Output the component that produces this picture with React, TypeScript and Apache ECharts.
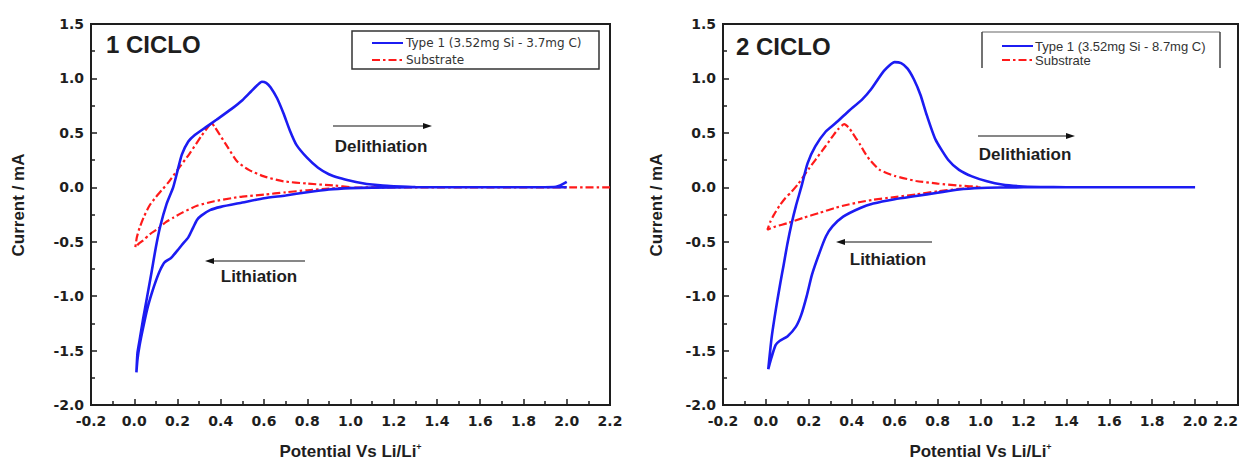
import React, { useEffect, useRef } from "react";
import * as echarts from "echarts";

// Cyclic voltammograms: [potential (V vs Li/Li+), current (mA)], in sweep order
// (cathodic sweep down to ~0 V, then anodic sweep back up).
const cycle1Type1: [number, number][] = [
  [2.0, 0.0], [1.9, 0.0], [1.6, 0.0], [1.3, 0.0], [1.1, -0.003], [1.0, -0.008],
  [0.9, -0.02], [0.8, -0.045], [0.7, -0.075], [0.6, -0.1], [0.5, -0.14], [0.4, -0.18],
  [0.35, -0.21], [0.31, -0.26], [0.29, -0.3], [0.27, -0.38], [0.25, -0.46], [0.22, -0.53],
  [0.2, -0.58], [0.17, -0.65], [0.14, -0.69], [0.12, -0.76], [0.1, -0.86], [0.08, -0.98],
  [0.06, -1.12], [0.04, -1.3], [0.025, -1.45], [0.015, -1.58], [0.01, -1.7],
  [0.015, -1.52], [0.025, -1.4], [0.04, -1.22], [0.06, -1.0], [0.08, -0.78], [0.1, -0.55],
  [0.12, -0.36], [0.15, -0.15], [0.18, 0.0], [0.2, 0.15], [0.22, 0.3], [0.25, 0.42],
  [0.28, 0.48], [0.33, 0.55], [0.38, 0.62], [0.45, 0.72], [0.5, 0.8], [0.54, 0.88],
  [0.57, 0.94], [0.59, 0.97], [0.61, 0.96], [0.63, 0.92], [0.66, 0.82], [0.69, 0.68],
  [0.72, 0.52], [0.75, 0.39], [0.8, 0.27], [0.85, 0.18], [0.9, 0.12], [0.95, 0.085],
  [1.0, 0.06], [1.05, 0.04], [1.1, 0.025], [1.15, 0.015], [1.2, 0.01], [1.3, 0.003],
  [1.5, 0.0], [1.8, 0.0], [1.95, 0.005], [2.0, 0.05],
];

const cycle1Substrate: [number, number][] = [
  [2.2, 0.0], [1.6, 0.0], [1.1, 0.0], [1.0, -0.005], [0.9, -0.012], [0.8, -0.027],
  [0.7, -0.046], [0.6, -0.067], [0.5, -0.085], [0.45, -0.1], [0.37, -0.128], [0.29, -0.17],
  [0.22, -0.235], [0.18, -0.28], [0.146, -0.32], [0.11, -0.38], [0.073, -0.43], [0.04, -0.49],
  [0.02, -0.52], [0.005, -0.55],
  [0.012, -0.46], [0.025, -0.37], [0.045, -0.27], [0.07, -0.17], [0.1, -0.09], [0.13, -0.02],
  [0.16, 0.05], [0.2, 0.16], [0.256, 0.31], [0.31, 0.47], [0.347, 0.57], [0.357, 0.59],
  [0.37, 0.56], [0.39, 0.5], [0.43, 0.375], [0.475, 0.24], [0.53, 0.16], [0.6, 0.1],
  [0.69, 0.055], [0.8, 0.034], [0.93, 0.015], [1.0, 0.0],
];

const cycle2Type1: [number, number][] = [
  [2.0, 0.0], [1.6, 0.0], [1.2, 0.0], [1.1, -0.002], [1.0, -0.006], [0.9, -0.02],
  [0.8, -0.05], [0.7, -0.08], [0.6, -0.11], [0.5, -0.15], [0.44, -0.19], [0.36, -0.27],
  [0.31, -0.36], [0.28, -0.45], [0.25, -0.6], [0.215, -0.8], [0.19, -1.0], [0.165, -1.17],
  [0.14, -1.28], [0.1, -1.37], [0.065, -1.41], [0.045, -1.45], [0.025, -1.57], [0.011, -1.67],
  [0.026, -1.39], [0.04, -1.2], [0.054, -1.03], [0.068, -0.87], [0.082, -0.72], [0.1, -0.52],
  [0.12, -0.33], [0.14, -0.17], [0.166, 0.01], [0.194, 0.22], [0.23, 0.375], [0.278, 0.51],
  [0.325, 0.59], [0.38, 0.69], [0.45, 0.81], [0.49, 0.9], [0.55, 1.07], [0.6, 1.15],
  [0.63, 1.14], [0.66, 1.09], [0.69, 0.99], [0.72, 0.85], [0.75, 0.66], [0.79, 0.44],
  [0.85, 0.25], [0.9, 0.16], [0.96, 0.1], [1.03, 0.055], [1.1, 0.025], [1.18, 0.01],
  [1.28, 0.003], [1.4, 0.0], [2.0, 0.0],
];

const cycle2Substrate: [number, number][] = [
  [1.0, 0.0], [0.9, -0.015], [0.8, -0.037], [0.7, -0.065], [0.6, -0.09], [0.5, -0.115],
  [0.44, -0.135], [0.38, -0.16], [0.32, -0.19], [0.25, -0.235], [0.175, -0.28], [0.1, -0.33],
  [0.045, -0.36], [0.007, -0.39],
  [0.02, -0.32], [0.035, -0.26], [0.063, -0.17], [0.09, -0.1], [0.12, -0.04], [0.15, 0.03],
  [0.175, 0.1], [0.2, 0.17], [0.23, 0.25], [0.26, 0.33], [0.29, 0.41], [0.315, 0.48],
  [0.335, 0.53], [0.365, 0.58], [0.385, 0.55], [0.4, 0.51], [0.42, 0.45], [0.44, 0.39],
  [0.46, 0.32], [0.485, 0.25], [0.53, 0.16], [0.6, 0.105], [0.7, 0.058], [0.8, 0.034],
  [0.9, 0.016], [1.0, 0.003],
];

const panelTitles = ["1 CICLO", "2 CICLO"];
const type1Names = ["Type 1 (3.52mg Si - 3.7mg C)", "Type 1 (3.52mg Si - 8.7mg C)"];
const substrateName = "Substrate";
const xAxisTitle = "Potential Vs Li/Li{sup|+}";
const yAxisTitle = "Current / mA";

const BLUE = "#1c1cf2";
const RED = "#ff1a1a";
const INK = "#1e1e1e";
const DASH_DOT = [8, 3, 2.5, 3];

const tickFmt = (v: number) => (Math.abs(v) < 1e-9 ? "0.0" : v.toFixed(1));

const tickLabel = {
  formatter: tickFmt,
  fontFamily: "DejaVu Sans",
  fontWeight: "bold",
  fontSize: 14,
  color: INK,
};

function makeXAxis(gridIndex: number, alignMax: string) {
  return {
    type: "value",
    gridIndex,
    min: -0.2,
    max: 2.2,
    interval: 0.2,
    name: xAxisTitle,
    nameLocation: "middle",
    nameGap: 37,
    nameTextStyle: {
      fontFamily: "Liberation Sans",
      fontWeight: "bold",
      fontSize: 17,
      color: INK,
      rich: {
        sup: { fontFamily: "Liberation Sans", fontWeight: "bold", fontSize: 9, color: INK, padding: [0, 0, 9, 0] },
      },
    },
    axisLine: { show: true, onZero: false, lineStyle: { color: INK, width: 2 } },
    axisTick: { show: true, inside: true, length: 6, lineStyle: { color: INK, width: 1.5 } },
    minorTick: { show: true, splitNumber: 2, length: 4, lineStyle: { color: INK, width: 1.5 } },
    splitLine: { show: false },
    axisLabel: { ...tickLabel, margin: 9, alignMaxLabel: alignMax },
  };
}

function makeYAxis(gridIndex: number) {
  return {
    type: "value",
    gridIndex,
    min: -2,
    max: 1.5,
    interval: 0.5,
    axisLine: { show: true, onZero: false, lineStyle: { color: INK, width: 2 } },
    axisTick: { show: true, inside: true, length: 6, lineStyle: { color: INK, width: 1.5 } },
    minorTick: { show: true, splitNumber: 2, length: 4, lineStyle: { color: INK, width: 1.5 } },
    splitLine: { show: false },
    axisLabel: { ...tickLabel, margin: 7 },
  };
}

function lineSeries(name: string, data: [number, number][], idx: number, color: string, width: number, type: any, z: number) {
  return {
    type: "line",
    name,
    xAxisIndex: idx,
    yAxisIndex: idx,
    data,
    symbol: "none",
    showSymbol: false,
    smooth: 0.2,
    z,
    lineStyle: { color, width, type },
  };
}

const boldText = (text: string, x: number, y: number, size: number, align = "left", rotation = 0) => ({
  type: "text",
  x,
  y,
  rotation,
  style: {
    text,
    fill: INK,
    font: `bold ${size}px "Liberation Sans", Arial, sans-serif`,
    textAlign: align,
    textVerticalAlign: "middle",
    verticalAlign: "middle",
  },
});

const arrow = (x1: number, x2: number, y: number) => {
  const dir = x2 > x1 ? 1 : -1;
  return [
    { type: "line", shape: { x1, y1: y, x2: x2 - dir * 7, y2: y }, style: { stroke: "#111", lineWidth: 1.2 } },
    {
      type: "polygon",
      shape: { points: [[x2, y], [x2 - dir * 9, y - 3], [x2 - dir * 9, y + 3]] },
      style: { fill: "#111" },
    },
  ];
};

const legendText = (text: string, x: number, y: number, font: string) => ({
  type: "text",
  x,
  y,
  style: { text, fill: "#333", font, textAlign: "left", textVerticalAlign: "middle", verticalAlign: "middle" },
});

export default function App() {
  const ref = useRef<HTMLDivElement>(null);

  useEffect(() => {
    if (!ref.current) return;
    const chart = echarts.init(ref.current, undefined, { renderer: "svg" });

    const graphic: any[] = [
      boldText(panelTitles[0], 106, 44, 24),
      boldText(panelTitles[1], 736, 46, 24),
      boldText(yAxisTitle, 18, 205, 17, "center", Math.PI / 2),
      boldText(yAxisTitle, 656, 205, 17, "center", Math.PI / 2),
      // annotations
      ...arrow(333, 432, 126),
      boldText("Delithiation", 381, 146, 17, "center"),
      ...arrow(305, 205, 261),
      boldText("Lithiation", 259, 276, 17, "center"),
      ...arrow(978, 1075, 136),
      boldText("Delithiation", 1025, 154, 17, "center"),
      ...arrow(932, 836, 242),
      boldText("Lithiation", 888, 259, 17, "center"),
      // legend, left panel
      {
        type: "rect",
        shape: { x: 352, y: 31, width: 247, height: 38 },
        style: { fill: "#fff", stroke: "#333", lineWidth: 1.5 },
        z: 10,
      },
      { type: "line", shape: { x1: 372, y1: 43, x2: 403, y2: 43 }, style: { stroke: BLUE, lineWidth: 2 }, z: 11 },
      { type: "line", shape: { x1: 372, y1: 60, x2: 403, y2: 60 }, style: { stroke: RED, lineWidth: 2, lineDash: DASH_DOT }, z: 11 },
      { ...legendText(type1Names[0], 406, 43, '12px "DejaVu Sans", sans-serif'), z: 11 },
      { ...legendText(substrateName, 406, 60, '12px "DejaVu Sans", sans-serif'), z: 11 },
      // legend, right panel (open at the bottom)
      { type: "line", shape: { x1: 982, y1: 32, x2: 1220, y2: 32 }, style: { stroke: "#999", lineWidth: 1.5 }, z: 11 },
      { type: "line", shape: { x1: 982, y1: 32, x2: 982, y2: 68 }, style: { stroke: "#444", lineWidth: 1.5 }, z: 11 },
      { type: "line", shape: { x1: 1220, y1: 32, x2: 1220, y2: 68 }, style: { stroke: "#444", lineWidth: 1.5 }, z: 11 },
      { type: "line", shape: { x1: 1002, y1: 46, x2: 1033, y2: 46 }, style: { stroke: BLUE, lineWidth: 2 }, z: 11 },
      { type: "line", shape: { x1: 1002, y1: 60, x2: 1033, y2: 60 }, style: { stroke: RED, lineWidth: 2, lineDash: DASH_DOT }, z: 11 },
      { ...legendText(type1Names[1], 1035, 46, '13px "Liberation Sans", Arial, sans-serif'), z: 11 },
      { ...legendText(substrateName, 1035, 60, '13px "Liberation Sans", Arial, sans-serif'), z: 11 },
    ];

    const gridBase = {
      top: 24,
      height: 381,
      show: true,
      borderColor: INK,
      borderWidth: 2,
      backgroundColor: "transparent",
      containLabel: false,
      outerBoundsMode: "none",
    };

    chart.setOption({
      animation: false,
      backgroundColor: "#fff",
      grid: [
        { ...gridBase, left: 91, width: 519 },
        { ...gridBase, left: 723, width: 515 },
      ],
      xAxis: [makeXAxis(0, "center"), makeXAxis(1, "right")],
      yAxis: [makeYAxis(0), makeYAxis(1)],
      series: [
        lineSeries(substrateName, cycle1Substrate, 0, RED, 2.2, DASH_DOT, 2),
        lineSeries(type1Names[0], cycle1Type1, 0, BLUE, 2.6, "solid", 3),
        lineSeries(substrateName, cycle2Substrate, 1, RED, 2.2, DASH_DOT, 2),
        lineSeries(type1Names[1], cycle2Type1, 1, BLUE, 2.6, "solid", 3),
      ],
      graphic,
    });

    return () => chart.dispose();
  }, []);

  return (
    <div
      ref={ref}
      style={{ position: "fixed", left: 0, top: 0, width: 1247, height: 461, background: "#fff" }}
    />
  );
}
